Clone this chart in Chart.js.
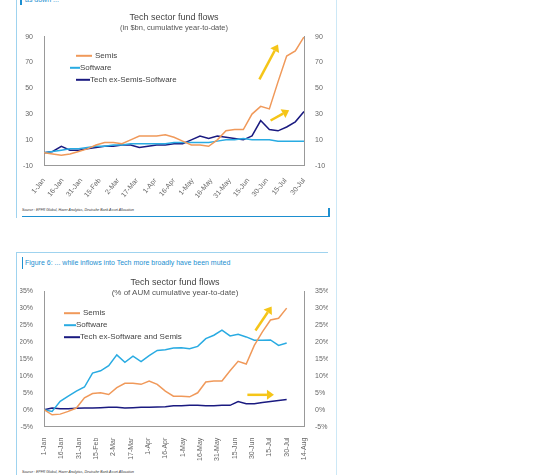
<!DOCTYPE html><html><head><meta charset="utf-8">
<script src="https://cdn.jsdelivr.net/npm/chart.js@4"></script>
<style>
body{margin:0;background:#fff;font-family:"Liberation Sans",Arial,sans-serif;}
.box{position:absolute;}
.c{position:absolute;}
.cap{position:absolute;font-size:7px;color:#1d8fd0;}
.src{position:absolute;font-size:3.5px;font-style:italic;color:#333;}
.t{position:absolute;left:18px;width:314px;text-align:center;color:#444;}
</style></head><body>
<div class="box" style="left:16px;top:0;width:1px;height:218px;background:#9fd3ef"></div>
<div class="box" style="left:336px;top:0;width:1px;height:475px;background:#cde8f6"></div>
<div class="box" style="left:20px;top:0;width:2px;height:5px;background:#1d8fd0"></div>
<div class="cap" style="left:25px;top:-4px;">as down ...</div>
<div class="src" style="left:22px;top:208px;">Source : EPFR Global, Haver Analytics, Deutsche Bank Asset Allocation</div>
<div class="box" style="left:22px;top:216px;width:307px;height:1px;background:#1d8fd0"></div>
<div class="box" style="left:328px;top:208px;width:2px;height:9px;background:#1d8fd0"></div>
<div class="box" style="left:16px;top:252px;width:1px;height:223px;background:#9fd3ef"></div>
<div class="box" style="left:16px;top:252px;width:312px;height:1px;background:#9fd3ef"></div>
<div class="box" style="left:22px;top:257px;width:1px;height:12px;background:#1d8fd0"></div>
<div class="cap" style="left:25px;top:259px;">Figure 6: ... while inflows into Tech more broadly have been muted</div>
<div class="src" style="left:22px;top:470px;">Source : EPFR Global, Haver Analytics, Deutsche Bank Asset Allocation</div>
<canvas id="c1" class="c" style="left:18px;top:8px;width:314px;height:195px" width="314" height="195"></canvas>
<canvas id="c2" class="c" style="left:18px;top:284px;width:314px;height:180px" width="314" height="180"></canvas>
<div class="t" style="top:277px;font-size:9px;">Tech sector fund flows</div>
<div class="t" style="top:288px;font-size:8px;color:#555;">(% of AUM cumulative year-to-date)</div>
<script>
const days=[0,7,14,21,28,35,42,49,56,63,70,77,84,91,98,105,112,119,126,133,140,147,154,161,168,175,182,189,196,203,210];
const tickDays=[0,15,30,45,60,75,90,105,120,135,150,165,180,195,210,225];
const tickLabels=["1-Jan","16-Jan","31-Jan","15-Feb","2-Mar","17-Mar","1-Apr","16-Apr","1-May","16-May","31-May","15-Jun","30-Jun","15-Jul","30-Jul","14-Aug"];
const names1=["Semis","Software","Tech ex-Semis-Software"];
const semis1=[0,-1,-2,-1,1,3,6,8,8,7,10,13,13,13,14,12,9,6,6,5,10,17,18,18,30,36,34,55,75,79,90];
const soft1=[0,1,2,3,3,4,5,5,6,6,7,7,7,7,7,8,8,8,8,8,9,10,10,11,10,10,10,9,9,9,9];
const tech1=[0,1,5,2,2,3,4,5,5,6,6,4,5,6,6,7,7,10,13,11,13,12,11,10,13,25,18,17,20,24,32];
const names2=["Semis","Software","Tech ex-Software and Semis"];
const semis2=[0,-1.5,-1.3,-0.5,0.5,3.5,4.8,5,4.5,6.5,7.8,7.8,7.5,8.5,7.5,5.5,4,4,3.8,5,8.2,8.5,8.5,11.5,14.3,13.5,19,23,26.5,27,30];
const soft2=[0,-0.5,2.5,4,5.5,6.7,10.8,11.5,13,16.2,14,15.8,14.2,16,17.5,17.7,18.2,18.3,18,18.7,21,22,23.5,21.8,22.3,21.5,20.5,20.5,20.6,19,19.7];
const tech2=[0,0.5,0.3,0.3,0.4,0.5,0.5,0.6,0.7,0.7,0.5,0.6,0.7,0.7,0.8,0.9,1.2,1.2,1.3,1.3,1.2,1.2,1.3,1.3,2.4,1.8,1.8,2.1,2.4,2.7,3.0];
const arrows1=[[174,57,189,84],[183,25,198,33]];
const arrows2=[[183,23.4,197,30.5],[176,4.4,199,4.4]];
const COL=["#f0995a","#29abe2","#1a1a80"];
const F="'Liberation Sans',Arial,sans-serif";
function pts(a){return a.map((v,i)=>({x:days[i],y:v}));}
const extras={id:'extras',afterDatasetsDraw(ch,a,o){
 const c=ch.ctx,x=ch.scales.x,y=ch.scales.y;
 c.save();
 c.strokeStyle="#f5c518";c.fillStyle="#f5c518";c.lineWidth=2.5;
 for(const [x0,y0,x1,y1] of o.arrows){
  const X0=x.getPixelForValue(x0),Y0=y.getPixelForValue(y0),X1=x.getPixelForValue(x1),Y1=y.getPixelForValue(y1);
  const ang=Math.atan2(Y1-Y0,X1-X0),L=7;
  const bx=X1-L*Math.cos(ang),by=Y1-L*Math.sin(ang);
  c.beginPath();c.moveTo(X0,Y0);c.lineTo(bx,by);c.stroke();
  c.beginPath();c.moveTo(X1,Y1);
  c.lineTo(bx+5*Math.cos(ang+Math.PI/2),by+5*Math.sin(ang+Math.PI/2));
  c.lineTo(bx+5*Math.cos(ang-Math.PI/2),by+5*Math.sin(ang-Math.PI/2));c.fill();
 }
 c.font="8px "+F;c.textBaseline="middle";
 ch.data.datasets.forEach((d,i)=>{
  const lx=ch.chartArea.left+o.lx[i],ly=ch.chartArea.top+o.ly+i*12;
  c.strokeStyle=d.borderColor;c.lineWidth=2;c.beginPath();c.moveTo(lx,ly);c.lineTo(lx+o.lw[i],ly);c.stroke();
  c.fillStyle="#444";c.fillText(d.label,lx+o.lw[i]+(i==0?3:0),ly);
 });
 c.restore();}};
function make(id,names,s,mn,mx,st,pct,xmax,title,sub,arrows,lx,ly,lw,minRot,showT){
 const tk={color:"#666",font:{size:7,family:F},callback:v=>pct?v+"%":v};
 new Chart(document.getElementById(id),{type:'line',
  data:{datasets:names.map((n,i)=>({label:n,data:pts(s[i]),borderColor:COL[i],borderWidth:1.5,pointRadius:0,tension:0}))},
  options:{responsive:false,animation:false,
   layout:{padding:{top:showT?0:5,right:4,left:2,bottom:0}},
   plugins:{legend:{display:false},tooltip:{enabled:false},
    title:{display:showT,text:title,color:"#444",font:{size:9,weight:'normal',family:F},padding:{top:4,bottom:1}},
    subtitle:{display:showT,text:sub,color:"#555",font:{size:7.5,family:F},padding:{bottom:4}},
    extras:{arrows,lx,ly,lw}},
   scales:{
    x:{type:'linear',min:0,max:xmax,afterBuildTicks:a=>{a.ticks=tickDays.filter(d=>d<=xmax).map(v=>({value:v}));},
      grid:{display:false},border:{color:"#999"},
      ticks:{color:"#666",font:{size:7,family:F},autoSkip:false,maxRotation:90,minRotation:minRot,callback:v=>tickLabels[tickDays.indexOf(v)]}},
    y:{min:mn,max:mx,afterBuildTicks:a=>{const t=[];for(let v=mn;v<=mx;v+=st)t.push({value:v});a.ticks=t;},grid:{display:false},border:{color:"#999"},ticks:tk,afterFit:a=>{a.width=24}},
    y2:{position:'right',min:mn,max:mx,afterBuildTicks:a=>{const t=[];for(let v=mn;v<=mx;v+=st)t.push({value:v});a.ticks=t;},grid:{display:false},border:{color:"#999"},ticks:tk,afterFit:a=>{a.width=24}}
   }}, plugins:[extras]});
}
make('c1',names1,[semis1,soft1,tech1],-10,90,20,false,210,"Tech sector fund flows","(in $bn, cumulative year-to-date)",arrows1,[32,26,32],19,[16,10,14],45,true);
make('c2',names2,[semis2,soft2,tech2],-5,35,5,true,225,"Tech sector fund flows","(% of AUM cumulative year-to-date)",arrows2,[20,20,20],22,[16,12,16],90,false);
</script></body></html>
